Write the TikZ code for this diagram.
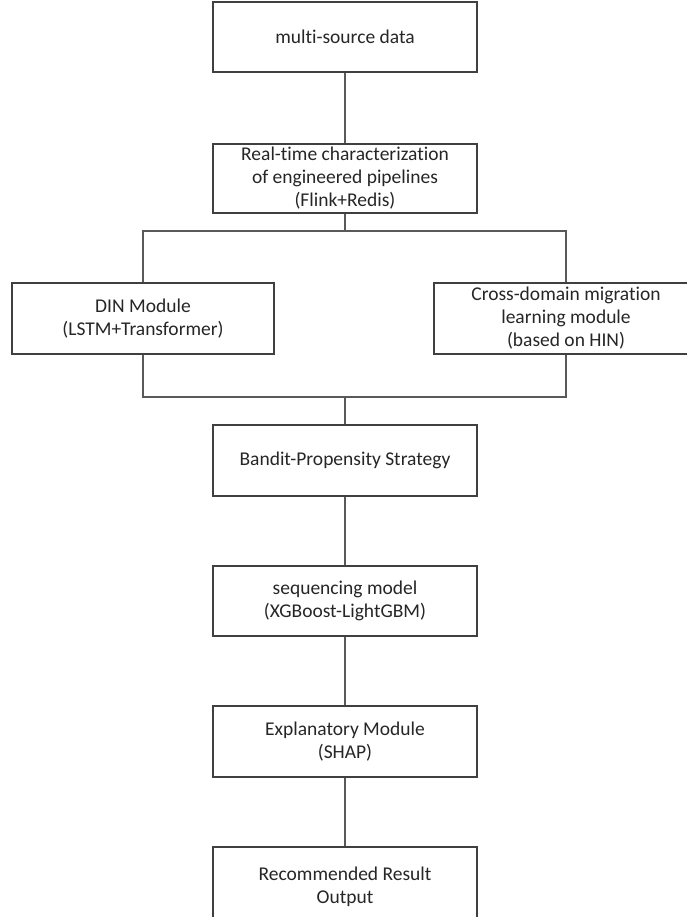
\documentclass[tikz,border=0pt]{standalone}
\usepackage{fontspec}
\setmainfont{Carlito}[Ligatures=NoCommon]
\begin{document}
\begin{tikzpicture}[x=1pt,y=-1pt,
  box/.style={draw=black!75,line width=1.2pt,fill=white,text=black!85,
    align=center,inner sep=0pt,font=\fontsize{19.5}{23}\selectfont},
  link/.style={draw=black!65,line width=1.3pt}]
\useasboundingbox[fill=white] (0,0) rectangle (686,917);
\node[box,minimum width=264,minimum height=70] (n1) at (345,37) {multi-source data};
\node[box,minimum width=264,minimum height=69] (n2) at (345,178.5) {Real-time characterization\\of engineered pipelines\\(Flink+Redis)};
\node[box,minimum width=262,minimum height=71] (din) at (143,318.5) {DIN Module\\(LSTM+Transformer)};
\node[box,minimum width=264,minimum height=71] (cdm) at (566,318.5) {Cross-domain migration\\learning module\\(based on HIN)};
\node[box,minimum width=264,minimum height=71] (bandit) at (345,460.5) {Bandit-Propensity Strategy};
\node[box,minimum width=264,minimum height=70] (seq) at (345,601) {sequencing model\\(XGBoost-LightGBM)};
\node[box,minimum width=264,minimum height=71] (expl) at (345,741.5) {Explanatory Module\\(SHAP)};
\node[box,minimum width=264,minimum height=80] (rec) at (345,887) {Recommended Result\\Output};
\coordinate (bt) at (345,231);
\coordinate (bb) at (345,397);
\draw[link] (n1.south) -- (n2.north);
\draw[link] (n2.south) -- (bt);
\draw[link] (din.north) -- (din.north |- bt) -- (cdm.north |- bt) -- (cdm.north);
\draw[link] (din.south) -- (din.south |- bb) -- (cdm.south |- bb) -- (cdm.south);
\draw[link] (bb) -- (bandit.north);
\draw[link] (bandit.south) -- (seq.north);
\draw[link] (seq.south) -- (expl.north);
\draw[link] (expl.south) -- (rec.north);
\end{tikzpicture}
\end{document}
